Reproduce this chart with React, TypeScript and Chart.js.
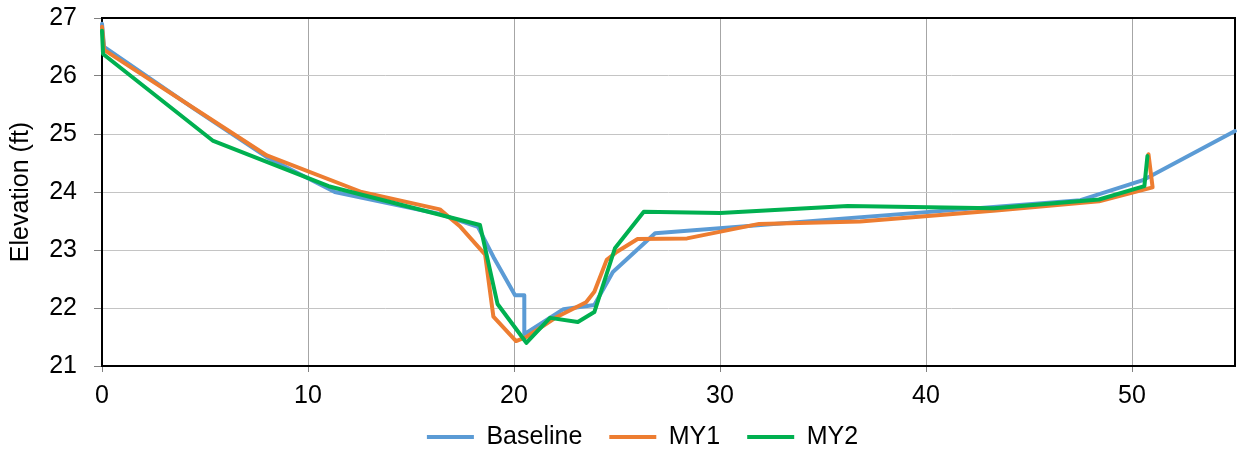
import React, { useEffect, useRef } from "react";
import { Chart, registerables } from "chart.js";

Chart.register(...registerables);

// Station (ft) and elevation (ft) for each survey
const baselineX = [0, 0.1, 4.5, 8.0, 11.3, 16.4, 18.25, 19.0, 20.05, 20.5, 20.5, 22.4, 23.9, 24.8, 26.85, 47.5, 50.5, 55];
const baselineY = [26.9, 26.5, 25.43, 24.6, 24.0, 23.62, 23.4, 22.88, 22.22, 22.22, 21.55, 21.98, 22.05, 22.62, 23.29, 23.86, 24.2, 25.05];

const my1X = [0, 0.1, 8.0, 12.6, 16.4, 17.4, 18.6, 19.0, 20.1, 20.6, 22.1, 23.5, 23.9, 24.5, 25.0, 26.0, 28.4, 31.9, 36.8, 43.4, 48.4, 51.0, 50.8];
const my1Y = [26.85, 26.45, 24.63, 24.0, 23.7, 23.4, 22.92, 21.85, 21.43, 21.5, 21.85, 22.1, 22.28, 22.83, 22.97, 23.19, 23.2, 23.45, 23.49, 23.68, 23.84, 24.08, 24.65];

const my2X = [0, 0.05, 5.4, 11.0, 18.35, 19.2, 20.6, 21.75, 23.1, 23.9, 24.9, 26.3, 30.0, 36.2, 43.3, 48.4, 50.6, 50.75];
const my2Y = [26.78, 26.38, 24.88, 24.1, 23.43, 22.07, 21.4, 21.83, 21.76, 21.93, 23.03, 23.66, 23.64, 23.76, 23.72, 23.87, 24.1, 24.62];

const seriesNames = ["Baseline", "MY1", "MY2"];
const seriesColors = ["#5B9BD5", "#ED7D31", "#00B050"];

const xMin = 0;
const xMax = 55;
const xStep = 10;
const yMin = 21;
const yMax = 27;
const yStep = 1;
const yTitle = "Elevation (ft)";

const FONT = "'Liberation Sans', Arial, sans-serif";

const pairs = (xs: number[], ys: number[]) => xs.map((x, i) => ({ x, y: ys[i] }));

const frame = {
  id: "plotFrame",
  beforeDatasetsDraw(chart: any) {
    const { ctx, chartArea } = chart;
    ctx.save();
    ctx.strokeStyle = "#000";
    ctx.lineWidth = 2;
    ctx.strokeRect(chartArea.left, chartArea.top, chartArea.right - chartArea.left, chartArea.bottom - chartArea.top);
    ctx.restore();
  },
};

const legendPlace = {
  id: "legendPlace",
  afterLayout(chart: any) {
    const lg = chart.legend;
    if (!lg) return;
    const h = lg.height;
    lg.left = 24;
    lg.right = 1261;
    lg.top = 437 - 27 - 12.5;
    lg.bottom = lg.top + h;
  },
};

export default function App() {
  const ref = useRef<HTMLCanvasElement>(null);

  useEffect(() => {
    const canvas = ref.current;
    if (!canvas) return;
    const data = [pairs(baselineX, baselineY), pairs(my1X, my1Y), pairs(my2X, my2Y)];
    const chart = new Chart(canvas, {
      type: "line",
      data: {
        datasets: seriesNames.map((name, i) => ({
          label: name,
          data: data[i],
          borderColor: seriesColors[i],
          backgroundColor: seriesColors[i],
          borderWidth: 4,
          pointRadius: 0,
          pointHoverRadius: 0,
          tension: 0,
          borderJoinStyle: "round" as const,
          borderCapStyle: "round" as const,
          clip: false as any,
          order: 3 - i,
        })),
      },
      options: {
        responsive: false,
        animation: false,
        devicePixelRatio: 1,
        layout: { padding: { top: 18, right: 3, left: 0, bottom: -22 } },
        plugins: {
          legend: {
            position: "bottom",
            labels: {
              usePointStyle: true,
              pointStyle: "line",
              pointStyleWidth: 47,
              padding: 27,
              color: "#000",
              font: { family: FONT, size: 25 },
              sort: (a: any, b: any) => a.datasetIndex - b.datasetIndex,
            },
          },
          tooltip: { enabled: false },
        },
        scales: {
          x: {
            type: "linear",
            min: xMin,
            max: xMax,
            afterFit: (s: any) => {
              s.height = 48;
              s.paddingLeft = 0;
              s.paddingRight = 0;
            },
            ticks: {
              stepSize: xStep,
              includeBounds: false,
              padding: 9,
              color: "#000",
              font: { family: FONT, size: 25 },
              maxRotation: 0,
            },
            grid: { color: "#A6A6A6", tickColor: "#808080", tickLength: 6, lineWidth: 1 },
            border: { display: false },
          },
          y: {
            type: "linear",
            min: yMin,
            max: yMax,
            afterFit: (s: any) => {
              s.width = 102;
              s.paddingTop = 0;
              s.paddingBottom = 0;
            },
            ticks: {
              stepSize: yStep,
              padding: 17,
              color: "#000",
              font: { family: FONT, size: 25 },
            },
            grid: { color: "#C4C4C4", tickColor: "#808080", tickLength: 8, lineWidth: 1 },
            border: { display: false },
            title: {
              display: true,
              text: yTitle,
              color: "#000",
              font: { family: FONT, size: 25 },
              padding: { top: 6, bottom: 0 },
            },
          },
        },
      },
      plugins: [frame, legendPlace],
    });
    return () => chart.destroy();
  }, []);

  return (
    <div style={{ position: "absolute", left: 0, top: 0, width: 1238, height: 454, background: "#fff" }}>
      <canvas ref={ref} width={1238} height={454} style={{ display: "block", width: 1238, height: 454 }} />
    </div>
  );
}
